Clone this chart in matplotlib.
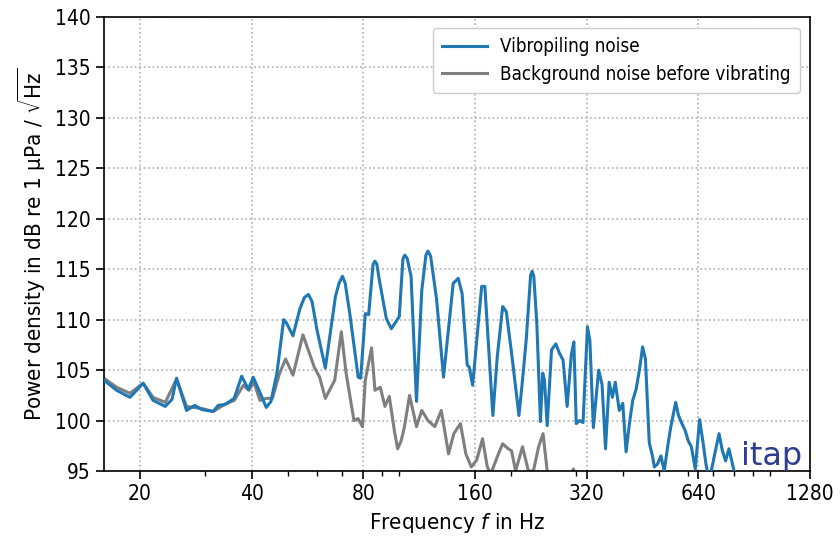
import matplotlib
matplotlib.use("Agg")
import matplotlib.pyplot as plt
from matplotlib.ticker import FixedLocator, LogLocator, NullFormatter

plt.rcParams['font.family'] = ['DejaVu Sans']
plt.rcParams['font.stretch'] = 'condensed'

# ---------------- data ----------------
freq_vib = [16.0, 17.3, 18.8, 20.4, 21.7, 23.4, 24.4, 25.1, 26.7, 28.1, 29.3, 31.5, 32.5, 33.9,
            35.9, 37.6, 39.2, 40.4, 42.1, 43.8, 45.1, 46.8, 48.8, 49.6, 51.7, 54.0, 55.5, 56.9,
            58.2, 60.0, 63.2, 67.3, 68.8, 70.3, 71.5, 73.5, 77.5, 78.7, 81.0, 82.7, 85.0, 86.0,
            87.0, 88.4, 92.3, 95.2, 100.0, 102.3, 103.5, 105.0, 107.6, 111.3, 115.0, 118.0,
            119.5, 121.5, 126.1, 131.6, 139.8, 144.2, 147.7, 152.5, 154.4, 157.7, 166.8, 170.1,
            178.8, 183.7, 190.0, 194.3, 200.8, 210.2, 214.9, 219.9, 226.0, 228.1, 230.5, 234.9,
            240.2, 243.6, 246.3, 250.5, 257.3, 264.3, 270.1, 276.4, 283.5, 290.9, 295.6, 300.0,
            306.3, 312.9, 321.6, 326.5, 333.6, 344.7, 352.1, 359.8, 367.9, 375.5, 382.2, 391.8,
            400.4, 408.7, 417.3, 426.0, 434.9, 444.0, 452.9, 460.9, 472.0, 482.0, 487.0, 497.0,
            507.5, 518.0, 529.0, 539.0, 556.0, 566.0, 578.0, 590.0, 601.0, 613.0, 628.0, 645.0,
            658.0, 671.0, 685.0, 706.0, 728.0, 743.0, 758.0, 774.0, 799.0, 815.0]
level_vib = [104.0, 103.0, 102.3, 103.7, 102.0, 101.4, 102.1, 104.2, 101.0, 101.5, 101.1, 100.9,
             101.5, 101.6, 102.2, 104.4, 103.1, 104.3, 102.8, 101.3, 101.9, 104.7, 110.0, 109.7,
             108.4, 111.1, 112.2, 112.5, 111.8, 109.0, 105.2, 112.3, 113.6, 114.3, 113.6, 110.7,
             104.3, 104.2, 110.6, 110.5, 115.5, 115.8, 115.5, 113.9, 110.1, 109.1, 110.3, 116.0,
             116.4, 116.1, 114.3, 101.9, 112.9, 116.4, 116.8, 116.3, 112.0, 104.3, 113.6, 114.1,
             112.6, 105.5, 105.3, 103.5, 113.3, 113.3, 100.5, 106.3, 111.3, 110.8, 106.7, 100.5,
             104.0, 108.0, 114.4, 114.8, 114.3, 109.6, 99.9, 104.7, 104.0, 99.5, 107.0, 107.6,
             106.7, 106.0, 101.4, 106.5, 107.8, 99.7, 100.0, 99.8, 109.3, 107.9, 99.3, 105.0,
             103.6, 97.2, 103.8, 102.3, 103.8, 101.0, 101.7, 96.9, 99.7, 102.0, 103.1, 105.0,
             107.3, 106.1, 97.8, 96.4, 95.4, 95.7, 96.5, 95.0, 97.4, 99.3, 101.8, 100.5, 99.7,
             99.0, 98.0, 97.4, 95.2, 100.1, 98.0, 95.7, 94.0, 96.4, 98.7, 97.0, 96.0, 97.2,
             95.0, 93.5]

freq_bg = [16.0, 17.3, 18.8, 20.4, 21.7, 23.4, 25.1, 26.7, 29.3, 31.5, 33.9, 35.9, 38.0, 39.3,
           40.6, 42.1, 43.8, 45.5, 47.6, 49.4, 51.7, 55.0, 59.0, 61.0, 63.2, 67.0, 69.8, 71.9,
           75.5, 77.4, 79.6, 81.0, 84.2, 86.0, 88.9, 91.5, 94.0, 97.1, 99.0, 101.2, 103.3,
           106.6, 111.3, 115.0, 119.5, 124.7, 129.8, 135.8, 140.3, 146.2, 151.2, 156.4, 161.8,
           167.7, 172.7, 176.5, 183.7, 190.0, 196.7, 200.8, 205.9, 214.9, 222.9, 229.9, 237.5,
           244.1, 250.5, 256.2, 270.0, 295.0, 300.0, 350.0]
level_bg = [104.2, 103.3, 102.7, 103.7, 102.3, 101.8, 104.1, 101.4, 101.2, 100.9, 101.6, 102.0,
            103.5, 103.0, 103.8, 102.0, 102.2, 102.2, 104.7, 106.1, 104.5, 108.5, 105.3, 104.3,
            102.2, 104.0, 108.8, 104.7, 100.0, 100.2, 99.4, 104.0, 107.2, 103.0, 103.3, 101.4,
            102.4, 98.9, 97.2, 98.0, 99.4, 102.5, 99.4, 101.0, 100.0, 99.4, 101.0, 96.7, 98.7,
            99.7, 96.7, 95.4, 96.1, 98.2, 95.4, 94.7, 96.4, 97.7, 97.2, 97.0, 95.0, 97.4, 95.0,
            95.0, 97.4, 98.7, 95.0, 93.5, 93.0, 95.2, 93.0, 92.0]

x_ticks = [20, 40, 80, 160, 320, 640, 1280]
y_ticks = [95, 100, 105, 110, 115, 120, 125, 130, 135, 140]
series_labels = ["Vibropiling noise", "Background noise before vibrating"]

# ---------------- plot ----------------
fig = plt.figure(figsize=(8.4, 5.48), dpi=100)
ax = fig.add_axes([104/840, 1 - 471/548, 706/840, 454/548])

ax.plot(freq_vib, level_vib, color='#1f77b4', lw=2.2, label=series_labels[0], zorder=3)
ax.plot(freq_bg, level_bg, color='#7f7f7f', lw=2.2, label=series_labels[1], zorder=2)

ax.set_xscale('log', base=2)
ax.set_xlim(16, 1280)
ax.set_ylim(95, 140)
ax.xaxis.set_major_locator(FixedLocator(x_ticks))
ax.set_xticklabels([str(t) for t in x_ticks])
ax.xaxis.set_minor_locator(LogLocator(base=10, subs=range(1, 10)))
ax.xaxis.set_minor_formatter(NullFormatter())
ax.set_yticks(y_ticks)

ax.tick_params(axis='both', which='major', labelsize=15, length=6, width=1.2, direction='out')
ax.tick_params(axis='x', which='minor', length=3.5, width=1.0)
for s in ax.spines.values():
    s.set_linewidth(1.2)

ax.grid(True, which='major', linestyle=':', color='#b0b0b0', linewidth=1.2)

ax.set_xlabel(r'Frequency $\mathit{f}$ in Hz', fontsize=16, labelpad=5)
ax.set_ylabel(r'Power density in dB re 1 µPa / $\sqrt{\mathrm{Hz}}$', fontsize=16, labelpad=5)

leg = ax.legend(loc='upper right', fontsize=13.5, handlelength=2.4, handletextpad=0.7,
                borderpad=0.5, labelspacing=0.45, borderaxespad=0, framealpha=1,
                edgecolor='#cccccc', fancybox=True, bbox_to_anchor=(0.986, 0.976))

ax.text(0.902, 0.013, 'itap', transform=ax.transAxes, fontsize=23, color='#2e3d91',
        family='DejaVu Sans', stretch='normal', ha='left', va='baseline', clip_on=True, zorder=5)

fig.savefig('out.png', dpi=100)
